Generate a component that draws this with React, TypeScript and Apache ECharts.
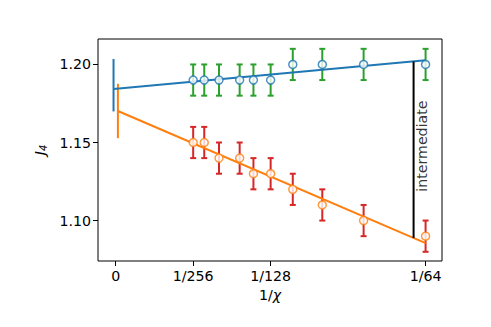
import React, { useEffect, useRef } from "react";
import * as echarts from "echarts";

// ---- data ----
const chiValues = [256, 224, 192, 160, 144, 128, 112, 96, 80, 64];
const upperJ = [1.19, 1.19, 1.19, 1.19, 1.19, 1.19, 1.2, 1.2, 1.2, 1.2];
const lowerJ = [1.15, 1.15, 1.14, 1.14, 1.13, 1.13, 1.12, 1.11, 1.1, 1.09];
const pointErr = 0.01;
const upperIntercept = [1.1867, 0.0168]; // value, error
const lowerIntercept = [1.1702, 0.0174];
const interceptOffset = 0.00011;
const xTickValues = [0, 1 / 256, 1 / 128, 1 / 64];
const xTickLabels = ["0", "1/256", "1/128", "1/64"];
const yTickValues = [1.1, 1.15, 1.2];
const xRange = [-0.000893, 0.016453];
const yRange = [1.0741, 1.2163];
const markerX = 0.01502;
const annotationText = "intermediate";
const annotationPos = [0.01545, 1.1477];

const FONT = "DejaVu Sans";
const BLUE = "#1f77b4";
const ORANGE = "#ff7f0e";
const GREEN = "#2ca02c";
const RED = "#d62728";

function fit(xs: number[], ys: number[]) {
  const n = xs.length;
  const mx = xs.reduce((a, b) => a + b, 0) / n;
  const my = ys.reduce((a, b) => a + b, 0) / n;
  let sxy = 0;
  let sxx = 0;
  for (let i = 0; i < n; i++) {
    sxy += (xs[i] - mx) * (ys[i] - my);
    sxx += (xs[i] - mx) * (xs[i] - mx);
  }
  const slope = sxy / sxx;
  return { slope, intercept: my - slope * mx };
}

export default function App() {
  const ref = useRef<HTMLDivElement>(null);
  useEffect(() => {
    if (!ref.current) return;
    const chart = echarts.init(ref.current, null, { renderer: "svg" });
    const xs = chiValues.map((c) => 1 / c);
    const fu = fit(xs, upperJ);
    const fl = fit(xs, lowerJ);
    const xEnd = 1 / 64;
    const upperLine = [
      [-interceptOffset, fu.intercept - fu.slope * interceptOffset],
      [xEnd, fu.intercept + fu.slope * xEnd],
    ];
    const lowerLine = [
      [interceptOffset, fl.intercept + fl.slope * interceptOffset],
      [xEnd, fl.intercept + fl.slope * xEnd],
    ];
    const vLine = [
      [markerX, fu.intercept + fu.slope * markerX],
      [markerX, fl.intercept + fl.slope * markerX],
    ];

    const errRender = (color: string) => (params: any, api: any) => {
      const x = api.value(0);
      const y = api.value(1);
      const e = api.value(2);
      const cap = api.value(3);
      const top = api.coord([x, y + e]);
      const bot = api.coord([x, y - e]);
      const children: any[] = [
        {
          type: "line",
          shape: { x1: top[0], y1: top[1], x2: bot[0], y2: bot[1] },
          style: { stroke: color, lineWidth: 2 },
        },
      ];
      if (cap) {
        const w = 3;
        children.push(
          { type: "line", shape: { x1: top[0] - w, y1: top[1], x2: top[0] + w, y2: top[1] }, style: { stroke: color, lineWidth: 2 } },
          { type: "line", shape: { x1: bot[0] - w, y1: bot[1], x2: bot[0] + w, y2: bot[1] }, style: { stroke: color, lineWidth: 2 } }
        );
      }
      return { type: "group", children };
    };

    const upperErr = xs.map((x, i) => [x, upperJ[i], pointErr, 1]);
    const lowerErr = xs.map((x, i) => [x, lowerJ[i], pointErr, 1]);

    const option: any = {
      animation: false,
      grid: {
        left: 98,
        top: 39,
        right: 49,
        bottom: 66,
        show: true,
        borderColor: "#000",
        borderWidth: 1,
        backgroundColor: "#fff",
        containLabel: false,
        outerBoundsMode: "none",
      },
      xAxis: {
        type: "value",
        min: xRange[0],
        max: xRange[1],
        axisLine: { show: false, onZero: false },
        splitLine: { show: false },
        axisTick: { show: true, customValues: xTickValues, length: 5, lineStyle: { color: "#000", width: 1 } },
        axisLabel: {
          customValues: xTickValues,
          margin: 8,
          color: "#000",
          fontFamily: FONT,
          fontSize: 14.2,
          formatter: (v: number) => {
            const i = xTickValues.findIndex((t) => Math.abs(t - v) < 1e-9);
            return i >= 0 ? xTickLabels[i] : "";
          },
        },
        name: "1/{i|χ}",
        nameLocation: "middle",
        nameGap: 24,
        nameTextStyle: {
          color: "#000",
          fontFamily: FONT,
          fontSize: 14.2,
          rich: { i: { fontStyle: "italic", fontFamily: FONT, fontSize: 14.2, color: "#000" } },
        },
      },
      yAxis: {
        type: "value",
        min: yRange[0],
        max: yRange[1],
        axisLine: { show: false, onZero: false },
        splitLine: { show: false },
        axisTick: { show: true, customValues: yTickValues, length: 5, lineStyle: { color: "#000", width: 1 } },
        axisLabel: {
          customValues: yTickValues,
          margin: 7,
          color: "#000",
          fontFamily: FONT,
          fontSize: 14.2,
          formatter: (v: number) => v.toFixed(2),
        },
        name: "{j|J}{s|4}",
        nameLocation: "middle",
        nameGap: 43,
        nameTextStyle: {
          color: "#000",
          rich: {
            j: { fontStyle: "italic", fontFamily: FONT, fontSize: 14.2, color: "#000" },
            s: { fontStyle: "italic", fontFamily: FONT, fontSize: 10, color: "#000", padding: [8, 0, 0, 0] },
          },
        },
      },
      series: [
        { type: "custom", renderItem: errRender(GREEN), data: upperErr, z: 2, silent: true, encode: { x: 0, y: 1 } },
        { type: "custom", renderItem: errRender(RED), data: lowerErr, z: 2, silent: true, encode: { x: 0, y: 1 } },
        {
          type: "line",
          data: upperLine,
          symbol: "none",
          lineStyle: { color: BLUE, width: 2 },
          z: 3,
        },
        {
          type: "line",
          data: lowerLine,
          symbol: "none",
          lineStyle: { color: ORANGE, width: 2 },
          z: 3,
        },
        {
          type: "custom",
          renderItem: errRender(BLUE),
          data: [[-interceptOffset, upperIntercept[0], upperIntercept[1], 0]],
          z: 3,
          silent: true,
          encode: { x: 0, y: 1 },
        },
        {
          type: "custom",
          renderItem: errRender(ORANGE),
          data: [[interceptOffset, lowerIntercept[0], lowerIntercept[1], 0]],
          z: 3,
          silent: true,
          encode: { x: 0, y: 1 },
        },
        {
          type: "scatter",
          data: xs.map((x, i) => [x, upperJ[i]]),
          symbol: "circle",
          symbolSize: 8,
          itemStyle: { color: "#fff", borderColor: BLUE, borderWidth: 1.5 },
          z: 4,
        },
        {
          type: "scatter",
          data: xs.map((x, i) => [x, lowerJ[i]]),
          symbol: "circle",
          symbolSize: 8,
          itemStyle: { color: "#fff", borderColor: ORANGE, borderWidth: 1.5 },
          z: 4,
        },
        {
          type: "line",
          data: vLine,
          symbol: "none",
          lineStyle: { color: "#000", width: 2 },
          z: 3,
        },
        {
          type: "scatter",
          data: [annotationPos],
          symbolSize: 0,
          silent: true,
          label: {
            show: true,
            position: "inside",
            rotate: 90,
            formatter: annotationText,
            color: "#000",
            fontFamily: FONT,
            fontSize: 14.2,
          },
          z: 5,
        },
      ],
    };
    chart.setOption(option);
    return () => chart.dispose();
  }, []);
  return (
    <div
      ref={ref}
      style={{ position: "fixed", left: 0, top: 0, width: 491, height: 327, background: "#fff" }}
    />
  );
}
